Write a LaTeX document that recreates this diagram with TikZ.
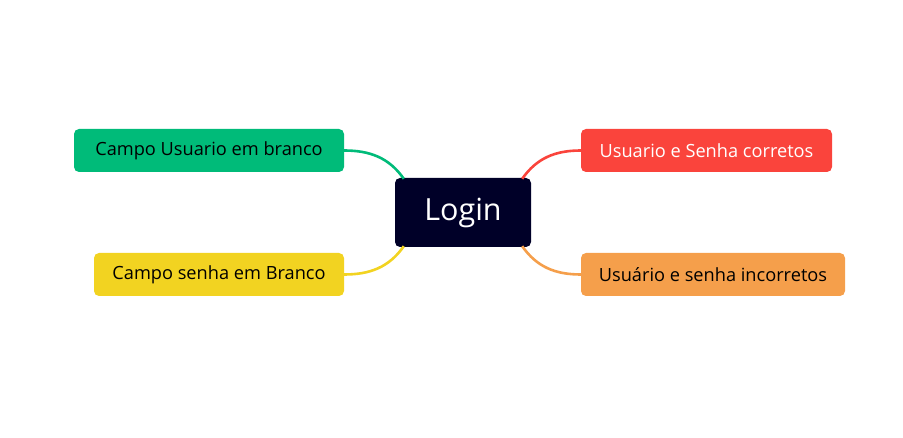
\documentclass[tikz,border=0pt]{standalone}
\usepackage{fontspec}
\setmainfont{Open Sans}
\usetikzlibrary{calc}
\definecolor{loginnavy}{HTML}{000028}
\definecolor{topicgreen}{HTML}{00BB79}
\definecolor{topicyellow}{HTML}{F2D321}
\definecolor{topicred}{HTML}{FA443C}
\definecolor{topicorange}{HTML}{F59F4B}
\tikzset{
  topic/.style={rounded corners=5pt, minimum height=43pt, inner sep=0pt, font=\fontsize{18.2}{22}\selectfont},
  branch/.style={line width=2.6pt}
}
\begin{document}
\begin{tikzpicture}[x=1pt,y=-1pt]
\useasboundingbox (0,0) rectangle (903,438);
\node[fill=loginnavy, text=white, rounded corners=5pt, minimum width=136pt, minimum height=69pt, inner sep=0pt, font=\fontsize{30.5}{36}\selectfont] (login) at (463,212.5) {Login};
\node[topic, fill=topicgreen, minimum width=270pt] (vazioUser) at (209,150.5) {Campo Usuario em branco};
\node[topic, fill=topicyellow, minimum width=250pt] (vazioSenha) at (219,274.5) {Campo senha em Branco};
\node[topic, fill=topicred, text=white, minimum width=251pt] (correto) at (706.5,150.5) {Usuario e Senha corretos};
\node[topic, fill=topicorange, minimum width=264pt] (incorreto) at (713,274.5) {Usuário e senha incorretos};
\path[draw,branch,topicgreen] (vazioUser.east) to[out=0,in=125] ($(login.north west)+(9,1)$);
\path[draw,branch,topicyellow] (vazioSenha.east) to[out=0,in=-125] ($(login.south west)+(9,-1)$);
\path[draw,branch,topicred] (correto.west) to[out=180,in=55] ($(login.north east)+(-9,1)$);
\path[draw,branch,topicorange] (incorreto.west) to[out=180,in=-55] ($(login.south east)+(-9,-1)$);
\end{tikzpicture}
\end{document}
